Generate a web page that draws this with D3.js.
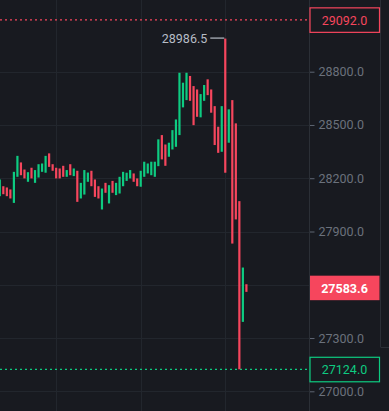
<!DOCTYPE html>
<html>
<head>
<meta charset="utf-8">
<script src="https://cdn.jsdelivr.net/npm/d3@7"></script>
<style>
  html, body { margin: 0; padding: 0; background: #181a20; }
  svg { display: block; }
</style>
</head>
<body>
<script>
// candle data, oldest first
const opens  = [28099,28155,28148,28137,28061,28208,28289,28249,28180,28259,
                28174,28204,28236,28231,28340,28279,28259,28255,28270,28208,
                28279,28212,28242,28086,28108,28180,28242,28193,28155,28024,
                28174,28058,28185,28105,28114,28155,28185,28199,28227,28199,
                28152,28208,28227,28217,28208,28268,28443,28390,28321,28362,
                28377,28443,28599,28640,28776,28719,28700,28543,28636,28757,
                28700,28606,28490,28349,28606,28400,28640,28509,28071,27391,
                27603];
const closes = [28193,28110,28099,28086,28236,28326,28217,28199,28234,28199,
                28246,28279,28283,28326,28264,28242,28199,28199,28208,28246,
                28217,28255,28067,28174,28246,28232,28155,28095,28086,28142,
                28118,28161,28118,28174,28208,28236,28231,28246,28180,28155,
                28242,28293,28283,28293,28293,28419,28306,28270,28400,28471,
                28531,28794,28738,28794,28636,28499,28546,28674,28725,28668,
                28569,28387,28343,28606,28231,28588,27832,27968,27124,27697,
                27583.6];
const highs  = opens.map((o, i) => Math.max(o, closes[i]));
const lows   = opens.map((o, i) => Math.min(o, closes[i]));
highs[64] = 28986.5;
lows[70] = 27560;

const priceTicks = [27000, 27300, 27600, 27900, 28200, 28500, 28800];
const hiddenTicks = [27600];          // covered by the last-price tag
const timeGrid = [16, 40, 64];        // candle indexes with a vertical grid line
const maxMark = 28986.5;
const rangeHigh = 29092.0;
const rangeLow = 27124.0;
const lastPrice = 27583.6;

const W = 389, H = 411;
const up = "#0ecb81", down = "#f6465d";
const gridCol = "#22262d";

const svg = d3.select("body").append("svg").attr("width", W).attr("height", H);
svg.append("rect").attr("width", W).attr("height", H).attr("fill", "#181a20");

const x = d3.scaleLinear().domain([0, 70]).range([-0.2, 246.4]);
const y = d3.scaleLinear().domain([27000, 28800]).range([391.3, 71.7]);
const axisX = 309.5;

// grid
svg.append("g").selectAll("line").data(priceTicks).join("line")
    .attr("x1", 0).attr("x2", axisX)
    .attr("y1", d => Math.round(y(d)) + 0.5).attr("y2", d => Math.round(y(d)) + 0.5)
    .attr("stroke", gridCol).attr("stroke-width", 1);
svg.append("g").selectAll("line").data(timeGrid).join("line")
    .attr("x1", d => Math.round(x(d)) + 0.5).attr("x2", d => Math.round(x(d)) + 0.5)
    .attr("y1", 0).attr("y2", H)
    .attr("stroke", gridCol).attr("stroke-width", 1);

// right price axis
const axis = d3.axisRight(y).tickValues(priceTicks.filter(t => hiddenTicks.indexOf(t) < 0))
    .tickSize(5).tickPadding(4).tickFormat(d3.format(".1f"));
const ax = svg.append("g").attr("transform", `translate(${axisX},0)`).call(axis);
ax.select(".domain").remove();
ax.selectAll("line").attr("stroke", "#5e6673");
ax.selectAll("text").attr("fill", "#6b717c").attr("font-family", "Roboto, 'Liberation Sans', Arial, sans-serif")
    .attr("font-size", 12.5);

svg.append("line").attr("x1", axisX).attr("x2", axisX).attr("y1", 0).attr("y2", H)
    .attr("stroke", "#2b2f36");
svg.append("line").attr("x1", 380.5).attr("x2", 380.5).attr("y1", 0).attr("y2", 347)
    .attr("stroke", "#2b2f36");
svg.append("line").attr("x1", 380.5).attr("x2", W).attr("y1", 347.5).attr("y2", 347.5)
    .attr("stroke", "#2b2f36");

// range lines
svg.append("line").attr("x1", 0).attr("x2", axisX)
    .attr("y1", y(rangeHigh)).attr("y2", y(rangeHigh))
    .attr("stroke", down).attr("stroke-width", 1.3).attr("stroke-dasharray", "2,3");
svg.append("line").attr("x1", 0).attr("x2", axisX)
    .attr("y1", y(rangeLow)).attr("y2", y(rangeLow))
    .attr("stroke", up).attr("stroke-width", 1.3).attr("stroke-dasharray", "2,3");

// candles
const idx = d3.range(opens.length);
svg.append("g").selectAll("rect").data(idx).join("rect")
    .attr("x", i => x(i) - 1.1)
    .attr("width", 2.2)
    .attr("y", i => y(highs[i]))
    .attr("height", i => Math.max(1.5, y(lows[i]) - y(highs[i])))
    .attr("fill", i => closes[i] >= opens[i] ? up : down);

// max marker
const maxIdx = highs.indexOf(maxMark);
svg.append("line").attr("x1", x(maxIdx) - 15).attr("x2", x(maxIdx) - 1)
    .attr("y1", y(maxMark) - 0.5).attr("y2", y(maxMark) - 0.5)
    .attr("stroke", "#b7bdc6").attr("stroke-width", 1.2);
svg.append("text").attr("x", x(maxIdx) - 18).attr("y", y(maxMark))
    .attr("text-anchor", "end").attr("dy", "0.35em")
    .attr("fill", "#b7bdc6").attr("font-family", "Roboto, 'Liberation Sans', Arial, sans-serif")
    .attr("font-size", 12.5).text(d3.format(".1f")(maxMark));

// price tags on the axis
function tag(v, stroke, fill, textCol, weight) {
    const cy = y(v);
    svg.append("rect").attr("x", axisX + 0.5).attr("y", cy - 12).attr("width", 69.5).attr("height", 24.5)
        .attr("fill", fill).attr("stroke", stroke).attr("stroke-width", stroke === "none" ? 0 : 1.2);
    svg.append("text").attr("x", axisX + 35).attr("y", cy + 0.5).attr("dy", "0.35em")
        .attr("text-anchor", "middle").attr("fill", textCol).attr("font-weight", weight)
        .attr("font-family", "Roboto, 'Liberation Sans', Arial, sans-serif").attr("font-size", 12.5)
        .text(d3.format(".1f")(v));
}
tag(rangeHigh, down, "#181a20", down, "normal");
tag(rangeLow, up, "#181a20", up, "normal");
tag(lastPrice, "none", down, "#ffffff", "bold");
</script>
</body>
</html>
